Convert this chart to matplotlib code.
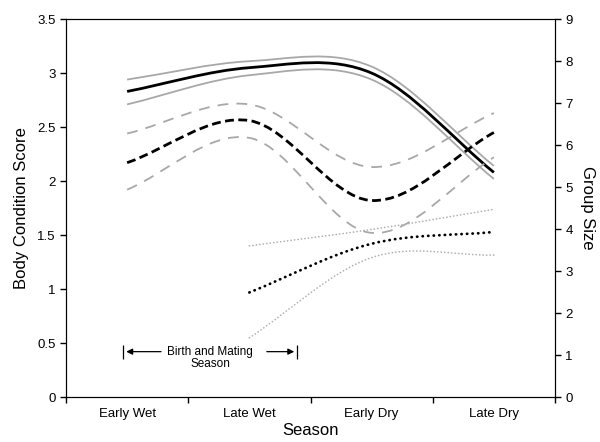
import numpy as np
import matplotlib
matplotlib.use('Agg')
from matplotlib import pyplot as plt
from matplotlib.path import Path
from matplotlib.patches import PathPatch

plt.rcParams['font.family'] = ['Liberation Sans', 'DejaVu Sans']

seasons = ['Early Wet', 'Late Wet', 'Early Dry', 'Late Dry']

# body condition score (left axis)
bcs_a = [2.83, 3.05, 3.00, 2.08]
bcs_a_hi = [2.94, 3.11, 3.06, 2.14]
bcs_a_lo = [2.71, 2.98, 2.94, 2.02]

bcs_b = [2.17, 2.56, 1.82, 2.45]
bcs_b_hi = [2.44, 2.71, 2.13, 2.63]
bcs_b_lo = [1.92, 2.40, 1.52, 2.22]

# group size (right axis), no early wet value
gs_seasons = ['Late Wet', 'Early Dry', 'Late Dry']
group = [2.49, 3.65, 3.93]
group_hi = [3.60, 3.99, 4.47]
group_lo = [1.41, 3.32, 3.38]


def smooth(ax, cats, vals, **kw):
    # smoothed line like the spreadsheet's: cubic bezier segments through the points
    x = np.array([seasons.index(c) for c in cats], float)
    y = np.array(vals, float)
    sec = np.diff(y) / np.diff(x)
    m = np.empty_like(y)
    m[0], m[-1] = sec[0], sec[-1]
    m[1:-1] = (y[2:] - y[:-2]) / (x[2:] - x[:-2])
    verts = [(x[0], y[0])]
    codes = [Path.MOVETO]
    for i in range(len(y) - 1):
        h = x[i+1] - x[i]
        verts += [(x[i] + h/3, y[i] + m[i]*h/3),
                  (x[i+1] - h/3, y[i+1] - m[i+1]*h/3),
                  (x[i+1], y[i+1])]
        codes += [Path.CURVE4] * 3
    ax.add_patch(PathPatch(Path(verts, codes), fill=False, **kw))


fig = plt.figure(figsize=(6, 4.42), dpi=100)
ax = fig.add_axes([0.11, 0.1018, 0.815, 0.855])
ax2 = ax.twinx()

grey = '#a8a8a8'
smooth(ax, seasons, bcs_a_hi, ec=grey, lw=1.3)
smooth(ax, seasons, bcs_a_lo, ec=grey, lw=1.3)
smooth(ax, seasons, bcs_a, ec='black', lw=2.0)

smooth(ax, seasons, bcs_b_hi, ec=grey, lw=1.3, ls=(0, (6, 4.5)))
smooth(ax, seasons, bcs_b_lo, ec=grey, lw=1.3, ls=(0, (6, 4.5)))
smooth(ax, seasons, bcs_b, ec='black', lw=2.0, ls=(0, (3.2, 1.6)))

smooth(ax2, gs_seasons, group_hi, ec='#b0b0b0', lw=1.2, ls=(0, (0.1, 2.0)), capstyle='round')
smooth(ax2, gs_seasons, group_lo, ec='#b0b0b0', lw=1.2, ls=(0, (0.1, 2.0)), capstyle='round')
smooth(ax2, gs_seasons, group, ec='black', lw=2.0, ls=(0, (0.1, 1.9)), capstyle='round')

ax.set_xlim(-0.5, 3.5)
ax.set_ylim(0, 3.5)
ax2.set_ylim(0, 9)
ax.set_yticks(np.arange(0, 3.51, 0.5))
ax.set_yticklabels(['0', '0.5', '1', '1.5', '2', '2.5', '3', '3.5'])
ax2.set_yticks(range(10))
ax.set_xticks(np.arange(-0.5, 3.6, 1))
ax.set_xticklabels([])
ax.set_xticks(range(4), minor=True)
ax.set_xticklabels(seasons, minor=True)
ax.tick_params(axis='x', which='minor', length=0, pad=8)
ax.tick_params(axis='both', which='major', direction='out', length=4, width=1, labelsize=9.5)
ax.tick_params(axis='x', which='minor', labelsize=9.5)
ax2.tick_params(direction='out', length=4, width=1, labelsize=9.5)

ax.set_xlabel('Season', fontsize=12, labelpad=2)
ax.set_ylabel('Body Condition Score', fontsize=12, labelpad=6)
ax2.set_ylabel('Group Size', fontsize=12, rotation=270, labelpad=16)

# birth and mating season marker
ax.text(0.68, 0.475, 'Birth and Mating\nSeason', ha='center', va='top', fontsize=8.5,
        linespacing=1.05)
ax.annotate('', xy=(-0.03, 0.42), xytext=(0.3, 0.42),
            arrowprops=dict(arrowstyle='-|>', color='black', lw=0.9, mutation_scale=9))
ax.annotate('', xy=(1.39, 0.42), xytext=(1.12, 0.42),
            arrowprops=dict(arrowstyle='-|>', color='black', lw=0.9, mutation_scale=9))
ax.plot([-0.03, 1.39], [0.42, 0.42], ls='none', marker='|', ms=10, mew=0.9, color='black')

fig.savefig('out.png', dpi=100)
